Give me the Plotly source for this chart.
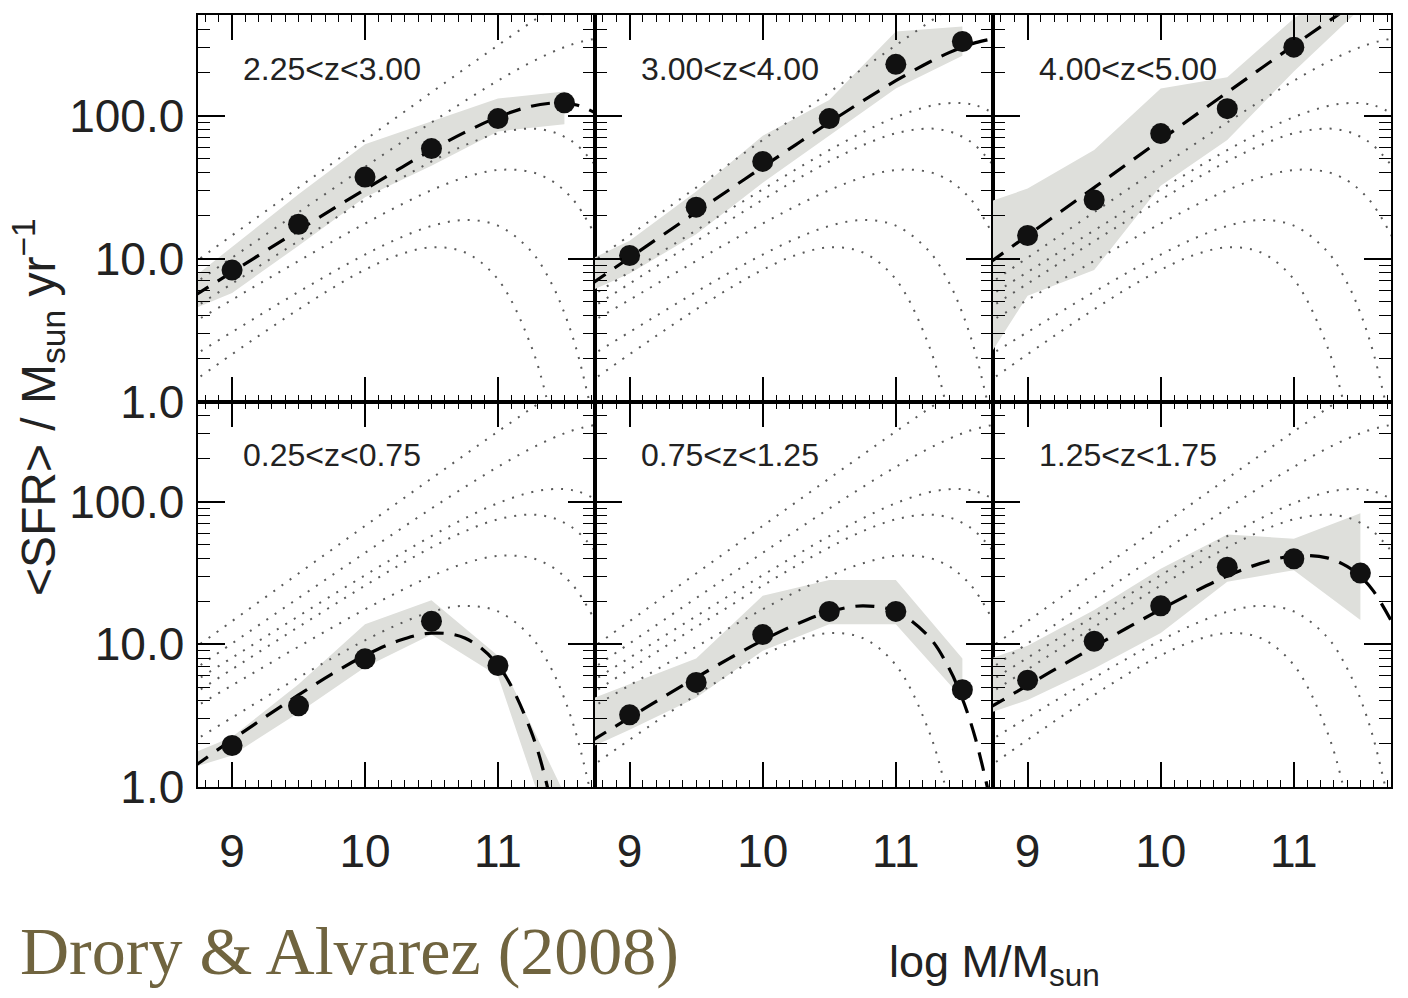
import plotly.graph_objects as go

# ---------------- data ----------------
# model fits, one per redshift bin, sampled on a common mass grid
fit_x = [8.70, 9.00, 9.25, 9.50, 9.75, 10.00, 10.25, 10.50, 10.75, 11.00, 11.25, 11.40, 11.50, 11.60, 11.75]
fit_z0250_0750 = [1.36, 2.14, 3.09, 4.41, 6.18, 8.35, 10.58, 11.97, 11.07, 7.15, 2.44, 0.776, 0.267, 0.067, 0.0039]
fit_z0750_1250 = [2.06, 3.06, 4.24, 5.84, 7.96, 10.66, 13.8, 16.9, 18.6, 17.0, 11.25, 6.78, 4.15, 2.15, 0.542]
fit_z1250_1750 = [3.53, 5.15, 7.05, 9.62, 13.06, 17.58, 23.3, 30.1, 36.96, 41.7, 40.4, 35.2, 29.9, 23.5, 13.6]
fit_z1750_2250 = [4.42, 6.68, 9.42, 13.24, 18.5, 25.8, 35.5, 47.8, 62.0, 75.3, 81.3, 77.6, 71.2, 61.6, 43.0]
fit_z2250_3000 = [5.37, 8.05, 11.27, 15.76, 21.98, 30.5, 42.1, 57.4, 76.4, 97.8, 116.6, 122.4, 122.5, 118.3, 102.9]
fit_z3000_4000 = [6.52, 10.14, 14.64, 21.1, 30.4, 43.8, 62.8, 89.7, 126.6, 175.8, 236.8, 276.4, 302.0, 324.9, 349.0]
fit_z4000_5000 = [9.15, 14.53, 21.35, 31.4, 46.1, 67.7, 99.3, 145.7, 213.2, 311.1, 451.1, 561.6, 648.0, 745.6, 914.0]

# measured mean SFR per mass bin
bin_x = [9.0, 9.5, 10.0, 10.5, 11.0, 11.5]
sfr_z0250_0750 = [1.95, 3.7, 7.9, 14.5, 7.1]
sfr_z0750_1250 = [3.2, 5.4, 11.7, 17.0, 17.0, 4.8]
sfr_z1250_1750 = [5.6, 10.5, 18.6, 34.7, 39.8, 31.6]
sfr_z2250_3000 = [8.3, 17.4, 37.2, 58.9, 95.5, 123.0]
sfr_z3000_4000 = [10.5, 22.9, 47.9, 95.5, 229.0, 331.0]
sfr_z4000_5000 = [14.5, 25.7, 75.0, 112.0, 302.0]

# uncertainty bands (upper / lower envelope)
band_x = [8.72, 9.0, 9.5, 10.0, 10.5, 11.0, 11.5]
band_hi_z0250_0750 = [1.74, 2.24, 5.25, 13.8, 20.4, 8.3, 0.89]
band_lo_z0250_0750 = [1.38, 1.66, 3.31, 6.9, 11.7, 6.0, 0.25]
band_hi_z0750_1250 = [4.17, 5.25, 7.94, 21.9, 28.2, 28.2, 7.94]
band_lo_z0750_1250 = [1.91, 2.51, 4.22, 9.0, 13.8, 13.8, 4.17]
band_hi_z1250_1750 = [7.94, 9.77, 17.4, 33.9, 58.9, 55.0, 83.2]
band_lo_z1250_1750 = [3.31, 4.07, 6.76, 12.0, 27.5, 33.1, 14.8]
band_hi_z2250_3000 = [7.5, 12.0, 28.2, 63.1, 91.2, 131.8, 147.9]
band_lo_z2250_3000 = [4.47, 5.75, 12.3, 26.9, 44.7, 77.6, 87.1]
band_hi_z3000_4000 = [10.0, 13.3, 29.5, 72.4, 128.8, 389.0, 422.0]
band_lo_z3000_4000 = [6.0, 7.85, 14.8, 33.9, 72.4, 155.0, 263.0]
band_hi_z4000_5000 = [25.1, 30.9, 57.5, 155.0, 186.0, 479.0, 1000.0]
band_lo_z4000_5000 = [2.14, 5.5, 8.3, 32.4, 67.6, 204.0, 562.0]

panel_labels = ["2.25<z<3.00", "3.00<z<4.00", "4.00<z<5.00",
                "0.25<z<0.75", "0.75<z<1.25", "1.25<z<1.75"]
x_ticks = [9, 10, 11]
y_tickvals = [1, 10, 100]
y_ticktext = ["1.0", "10.0", "100.0"]

all_fits = [fit_z0250_0750, fit_z0750_1250, fit_z1250_1750, fit_z1750_2250,
            fit_z2250_3000, fit_z3000_4000, fit_z4000_5000]

panels = [
    (fit_z2250_3000, sfr_z2250_3000, band_hi_z2250_3000, band_lo_z2250_3000),
    (fit_z3000_4000, sfr_z3000_4000, band_hi_z3000_4000, band_lo_z3000_4000),
    (fit_z4000_5000, sfr_z4000_5000, band_hi_z4000_5000, band_lo_z4000_5000),
    (fit_z0250_0750, sfr_z0250_0750, band_hi_z0250_0750, band_lo_z0250_0750),
    (fit_z0750_1250, sfr_z0750_1250, band_hi_z0750_1250, band_lo_z0750_1250),
    (fit_z1250_1750, sfr_z1250_1750, band_hi_z1250_1750, band_lo_z1250_1750),
]

# ---------------- layout geometry ----------------
W, H = 1408, 998
col_dom = [[197.5 / W, 595 / W], [595 / W, 993 / W], [993 / W, 1391 / W]]
row_dom = [[(H - 412.3) / H, (H - 15.7) / H], [(H - 808) / H, (H - 412.3) / H]]

XR = [8.74, 11.73]
YR = [-0.001, 2.703]

TXT = "#222222"
FONT = "Liberation Sans, Arial, Helvetica, sans-serif"
BAND = "#dedfdb"
DOT = "rgb(90,90,90)"

minor_y = [k * 10 ** e for e in range(0, 3) for k in range(2, 10) if k * 10 ** e < 520]

fig = go.Figure()
layout = dict(
    width=W, height=H, margin=dict(l=0, r=0, t=0, b=0),
    paper_bgcolor="white", plot_bgcolor="white", showlegend=False,
)
annotations = []

for p, (own_fit, sfr, bhi, blo) in enumerate(panels):
    n = p + 1
    xa, ya = f"x{n}", f"y{n}"
    row, col = divmod(p, 3)

    # band
    fig.add_trace(go.Scatter(
        x=band_x + band_x[::-1], y=bhi + blo[::-1], xaxis=xa, yaxis=ya,
        mode="lines", fill="toself", fillcolor=BAND, line=dict(width=0),
        hoverinfo="skip"))
    # the other fits, dotted
    for f in all_fits:
        if f is own_fit:
            continue
        fig.add_trace(go.Scatter(
            x=fit_x, y=f, xaxis=xa, yaxis=ya, mode="lines",
            line=dict(color=DOT, width=2, dash="2px,8px", shape="spline"),
            hoverinfo="skip"))
    # own fit, dashed
    fig.add_trace(go.Scatter(
        x=fit_x, y=own_fit, xaxis=xa, yaxis=ya, mode="lines",
        line=dict(color="black", width=3.2, dash="19px,11px", shape="spline")))
    # measurements
    fig.add_trace(go.Scatter(
        x=bin_x[:len(sfr)], y=sfr, xaxis=xa, yaxis=ya, mode="markers",
        marker=dict(color="#111111", size=21, line=dict(width=0))))

    ax_common = dict(
        showline=True, linecolor="black", linewidth=2, mirror="allticks",
        ticks="inside", tickcolor="black", showgrid=False, zeroline=False,
        tickfont=dict(family=FONT, size=46, color=TXT),
    )
    xkey = "xaxis" if n == 1 else f"xaxis{n}"
    ykey = "yaxis" if n == 1 else f"yaxis{n}"
    layout[xkey] = dict(
        ax_common, domain=col_dom[col], anchor=ya, range=XR,
        tickmode="array", tickvals=x_ticks, ticktext=[str(v) for v in x_ticks],
        ticklen=25, tickwidth=1.6, showticklabels=(row == 1),
        ticklabelstandoff=23,
        minor=dict(ticks="inside", tick0=9, dtick=0.1, ticklen=7,
                   tickcolor="black", tickwidth=1.2),
    )
    layout[ykey] = dict(
        ax_common, domain=row_dom[row], anchor=xa, type="log", range=YR,
        tickmode="array", tickvals=y_tickvals, ticktext=y_ticktext,
        ticklen=27, tickwidth=1.6, showticklabels=(col == 0),
        ticklabelstandoff=2,
        minor=dict(ticks="inside", tickvals=minor_y, ticklen=12,
                   tickcolor="black", tickwidth=1.2),
    )
    annotations.append(dict(
        x=9.07, y=2.33, xref=xa, yref=ya, xanchor="left", yanchor="middle",
        text=panel_labels[p].replace("<", "&lt;"), showarrow=False,
        font=dict(family=FONT, size=32, color=TXT)))

annotations.append(dict(
    x=38 / W, y=(H - 418) / H, xref="paper", yref="paper",
    text="&lt;SFR&gt; / M<sub>sun</sub> yr<sup>\u22121</sup>", textangle=-90,
    showarrow=False, xanchor="center", yanchor="middle",
    font=dict(family=FONT, size=48, color=TXT)))
annotations.append(dict(
    x=994 / W, y=(H - 990) / H, xref="paper", yref="paper",
    text="log M/M<sub>sun</sub>", showarrow=False,
    xanchor="center", yanchor="middle",
    font=dict(family=FONT, size=45, color=TXT)))
annotations.append(dict(
    x=18 / W, y=(H - 976) / H, xref="paper", yref="paper",
    text="Drory &amp; Alvarez (2008)", showarrow=False,
    xanchor="left", yanchor="middle",
    font=dict(family="Liberation Serif, Times New Roman, serif", size=68, color="#70643f")))

layout["annotations"] = annotations
fig.update_layout(**layout)
fig.write_html("out.html")
